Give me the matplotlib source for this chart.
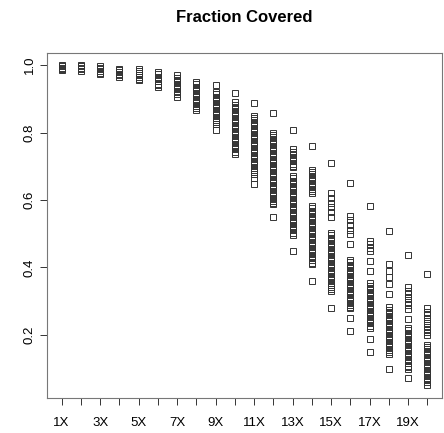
import matplotlib
matplotlib.use("Agg")
import matplotlib.pyplot as plt

plt.rcParams['font.family'] = ['Liberation Sans', 'DejaVu Sans']

# fraction covered per depth (1X .. 20X)
depths = list(range(1, 21))
depth_labels = ["%dX" % d for d in depths]

cov_1x = [1.000, 0.996, 0.993, 0.990, 0.987]
cov_2x = [1.000, 0.996, 0.992, 0.988, 0.984]
cov_3x = [0.998, 0.993, 0.988, 0.983, 0.978, 0.975]
cov_4x = [0.990, 0.985, 0.980, 0.975, 0.970, 0.966]
cov_5x = [0.989, 0.983, 0.977, 0.971, 0.965, 0.960, 0.956]
cov_6x = [0.980, 0.973, 0.966, 0.959, 0.952, 0.945, 0.940, 0.936]
cov_7x = [0.970, 0.963, 0.956, 0.949, 0.942, 0.935, 0.928, 0.921, 0.914, 0.907]
cov_8x = [0.950, 0.943, 0.936, 0.929, 0.922, 0.915, 0.908, 0.901, 0.894, 0.887,
          0.880, 0.873, 0.867]
cov_9x = [0.940, 0.921, 0.914, 0.907, 0.900, 0.893, 0.886, 0.879, 0.872, 0.865,
          0.858, 0.851, 0.844, 0.837, 0.830, 0.826, 0.807]
cov_10x = [0.918, 0.890, 0.883, 0.876, 0.869, 0.862, 0.855, 0.848, 0.841, 0.834,
           0.827, 0.820, 0.813, 0.806, 0.799, 0.792, 0.785, 0.778, 0.771, 0.764,
           0.757, 0.750, 0.743, 0.736]
cov_11x = [0.887, 0.850, 0.843, 0.836, 0.829, 0.822, 0.815, 0.808, 0.801, 0.794,
           0.787, 0.780, 0.773, 0.766, 0.759, 0.752, 0.745, 0.738, 0.731, 0.724,
           0.717, 0.710, 0.703, 0.696, 0.689, 0.682, 0.677, 0.665, 0.647]
cov_12x = [0.859, 0.800, 0.793, 0.786, 0.779, 0.772, 0.765, 0.758, 0.751, 0.744,
           0.737, 0.730, 0.723, 0.716, 0.709, 0.702, 0.695, 0.688, 0.681, 0.674,
           0.667, 0.660, 0.653, 0.646, 0.639, 0.632, 0.625, 0.618, 0.611, 0.604,
           0.597, 0.590, 0.587, 0.549]
cov_13x = [0.809, 0.750, 0.743, 0.736, 0.729, 0.722, 0.715, 0.708, 0.701, 0.697,
           0.671, 0.664, 0.657, 0.650, 0.643, 0.636, 0.629, 0.622, 0.615, 0.608,
           0.601, 0.594, 0.587, 0.580, 0.573, 0.566, 0.559, 0.552, 0.545, 0.538,
           0.531, 0.524, 0.517, 0.510, 0.503, 0.497, 0.448]
cov_14x = [0.760, 0.690, 0.683, 0.676, 0.669, 0.662, 0.655, 0.648, 0.641, 0.634,
           0.627, 0.620, 0.582, 0.575, 0.568, 0.561, 0.554, 0.547, 0.540, 0.533,
           0.526, 0.519, 0.512, 0.505, 0.498, 0.491, 0.484, 0.477, 0.470, 0.463,
           0.456, 0.449, 0.442, 0.435, 0.428, 0.421, 0.414, 0.409, 0.359]
cov_15x = [0.709, 0.620, 0.606, 0.592, 0.578, 0.564, 0.550, 0.502, 0.495, 0.488,
           0.481, 0.474, 0.467, 0.460, 0.453, 0.446, 0.439, 0.432, 0.425, 0.418,
           0.411, 0.404, 0.397, 0.390, 0.383, 0.376, 0.369, 0.362, 0.355, 0.348,
           0.341, 0.335, 0.330, 0.280]
cov_16x = [0.650, 0.553, 0.540, 0.526, 0.512, 0.499, 0.470, 0.422, 0.415, 0.408,
           0.401, 0.394, 0.387, 0.380, 0.373, 0.366, 0.359, 0.352, 0.345, 0.338,
           0.331, 0.324, 0.317, 0.310, 0.303, 0.296, 0.289, 0.284, 0.280, 0.250,
           0.211]
cov_17x = [0.582, 0.479, 0.469, 0.458, 0.448, 0.420, 0.389, 0.353, 0.346, 0.339,
           0.332, 0.325, 0.318, 0.311, 0.304, 0.297, 0.290, 0.283, 0.276, 0.269,
           0.262, 0.255, 0.248, 0.241, 0.234, 0.227, 0.221, 0.189, 0.150]
cov_18x = [0.509, 0.410, 0.390, 0.371, 0.351, 0.321, 0.282, 0.275, 0.268, 0.261,
           0.254, 0.247, 0.240, 0.233, 0.226, 0.219, 0.212, 0.205, 0.198, 0.191,
           0.184, 0.177, 0.170, 0.163, 0.156, 0.149, 0.142, 0.100]
cov_19x = [0.438, 0.341, 0.330, 0.320, 0.309, 0.299, 0.288, 0.278, 0.248, 0.221,
           0.214, 0.207, 0.200, 0.193, 0.186, 0.179, 0.172, 0.165, 0.158, 0.151,
           0.144, 0.137, 0.130, 0.123, 0.116, 0.109, 0.104, 0.100, 0.071]
cov_20x = [0.381, 0.280, 0.269, 0.258, 0.247, 0.236, 0.225, 0.216, 0.208, 0.199,
           0.171, 0.164, 0.157, 0.150, 0.143, 0.136, 0.129, 0.122, 0.115, 0.108,
           0.101, 0.094, 0.087, 0.080, 0.073, 0.066, 0.059, 0.053]

coverage = [cov_1x, cov_2x, cov_3x, cov_4x, cov_5x, cov_6x, cov_7x, cov_8x,
            cov_9x, cov_10x, cov_11x, cov_12x, cov_13x, cov_14x, cov_15x,
            cov_16x, cov_17x, cov_18x, cov_19x, cov_20x]

fig = plt.figure(figsize=(4.44, 4.33), dpi=100)
ax = fig.add_axes([47 / 444, 1 - 398 / 433, 395 / 444, 345 / 433])

for d, vals in zip(depths, coverage):
    ax.plot([d] * len(vals), vals, linestyle="none", marker="s", ms=3.9,
            mfc="none", mec="#333333", mew=0.7)

ax.set_xlim(0.24, 20.76)
ax.set_ylim(0.013, 1.036)

# R drops overlapping labels: only odd depths are shown
ax.set_xticks(depths)
ax.set_xticklabels([lab if i % 2 == 0 else "" for i, lab in enumerate(depth_labels)])
ax.set_yticks([0.2, 0.4, 0.6, 0.8, 1.0])
ax.set_yticklabels(["0.2", "0.4", "0.6", "0.8", "1.0"], rotation=90, va="center")

ax.tick_params(axis="x", length=5, width=0.7, pad=9, labelsize=9.5, color="#333333")
ax.tick_params(axis="y", length=5, width=0.7, pad=3, labelsize=9.5, color="#333333")
for sp in ax.spines.values():
    sp.set_color("#777777")
    sp.set_linewidth(0.8)

fig.text(244 / 444, 1 - 18 / 433, "Fraction Covered", ha="center", va="center",
         fontsize=12, fontweight="bold")

fig.savefig("out.png", dpi=100)
